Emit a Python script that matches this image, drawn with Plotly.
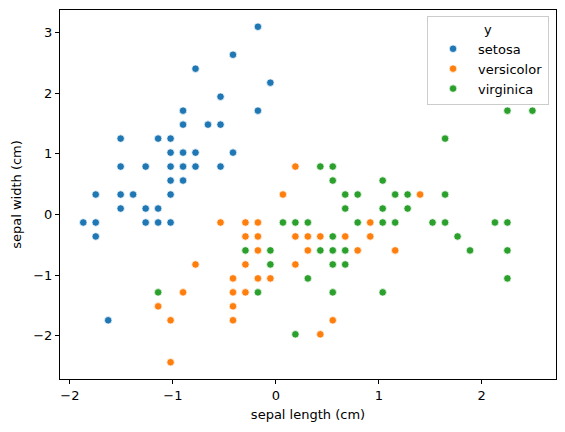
import plotly.graph_objects as go

# Standardized iris values
setosa_x = [-0.416, -0.780, -0.537, -0.901, -0.901, -0.659, -0.537, -1.507, -1.143, -1.022,
            -1.022, -0.901, -0.780, -0.416, -1.507, -1.264, -1.022, -0.901, -0.780, -0.537,
            -1.022, -0.901, -1.749, -1.507, -1.386, -1.022, -0.174, -0.053, -0.174, -1.507,
            -1.264, -1.143, -1.870, -1.749, -1.264, -1.143, -1.022, -1.749, -1.628]
setosa_y = [2.631, 2.401, 1.940, 1.710, 1.480, 1.480, 1.480, 1.250, 1.250, 1.250,
            1.019, 1.019, 1.019, 1.019, 0.789, 0.789, 0.789, 0.789, 0.789, 0.789,
            0.559, 0.559, 0.329, 0.329, 0.329, 0.329, 3.092, 2.171, 1.710, 0.098,
            0.098, 0.098, -0.132, -0.132, -0.132, -0.132, -0.132, -0.362, -1.743]

versicolor_x = [0.190, 0.069, 1.401, 1.159, -0.537, -0.780, -0.901, -1.143, -1.022, -1.022,
                -0.295, -0.174, 0.917, -0.295, -0.174, 0.190, 0.311, 0.432, 0.674, 0.917,
                -0.174, 0.311, 0.795, -0.295, 0.190, -0.416, -0.174, -0.053, -0.416, -0.295,
                -0.416, -0.416, 0.553, 0.432]
versicolor_y = [0.789, 0.329, 0.329, -0.592, -0.132, -0.823, -1.283, -1.513, -1.743, -2.434,
                -0.132, -0.132, -0.132, -0.362, -0.362, -0.362, -0.362, -0.362, -0.362, -0.362,
                -0.592, -0.592, -0.592, -0.823, -0.823, -1.053, -1.053, -1.053, -1.283, -1.283,
                -1.513, -1.743, -1.743, -1.974]

virginica_x = [0.432, 0.553, 0.553, 1.038, 0.674, 0.795, 1.159, 2.249, 2.492, 1.644,
               1.280, 1.644, 1.280, 1.159, 1.522, 1.644, 2.128, 2.249, 1.765, 1.886,
               2.249, 2.249, -1.143, 0.674, 1.038, 0.069, 0.190, 0.311, 0.795, 1.038,
               0.553, -0.295, -0.053, 0.432, 0.553, 0.674, -0.053, 0.553, 0.674, 0.311,
               -0.174, 0.553, 1.038, 0.190]
virginica_y = [0.789, 0.789, 0.559, 0.559, 0.329, 0.329, 0.329, 1.710, 1.710, 1.250,
               0.329, 0.329, 0.098, -0.132, -0.132, -0.132, -0.132, -0.132, -0.362, -0.592,
               -0.592, -1.053, -1.283, 0.098, 0.098, -0.132, -0.132, -0.132, -0.132, -0.132,
               -0.362, -0.592, -0.592, -0.592, -0.592, -0.592, -0.823, -0.823, -0.823, -1.053,
               -1.283, -1.283, -1.283, -1.974]

series = [
    ("setosa", setosa_x, setosa_y, "#1f77b4"),
    ("versicolor", versicolor_x, versicolor_y, "#ff7f0e"),
    ("virginica", virginica_x, virginica_y, "#2ca02c"),
]

x_ticks = [-2, -1, 0, 1, 2]
y_ticks = [-2, -1, 0, 1, 2, 3]

FONT = "DejaVu Sans"
FS = 13

fig = go.Figure()
for name, xs, ys, color in series:
    fig.add_trace(go.Scatter(
        x=xs, y=ys, mode="markers", name=name,
        marker=dict(color=color, size=7.5, line=dict(color="white", width=0.75)),
    ))

axis_common = dict(
    showline=True, mirror=True, linecolor="black", linewidth=1,
    showgrid=False, zeroline=False,
    ticks="outside", ticklen=4, tickwidth=1, tickcolor="black",
    tickfont=dict(family=FONT, size=FS, color="black"),
)

fig.update_layout(
    width=565, height=432,
    margin=dict(l=60, r=9, t=10, b=53),
    paper_bgcolor="white", plot_bgcolor="white",
    font=dict(family=FONT, size=FS, color="black"),
    xaxis=dict(range=[-2.096, 2.721], tickvals=x_ticks,
               title=dict(text="sepal length (cm)", font=dict(family=FONT, size=FS), standoff=8),
               **axis_common),
    yaxis=dict(range=[-2.71, 3.368], tickvals=y_ticks,
               title=dict(text="sepal width (cm)", font=dict(family=FONT, size=FS), standoff=8),
               **axis_common),
    legend=dict(
        title=dict(text="y", side="top center", font=dict(family=FONT, size=FS)),
        x=0.986, y=0.984, xanchor="right", yanchor="top",
        bgcolor="rgba(255,255,255,0.8)", bordercolor="#cccccc", borderwidth=1,
        font=dict(family=FONT, size=FS), itemwidth=40,
    ),
)

fig.write_html("out.html")
